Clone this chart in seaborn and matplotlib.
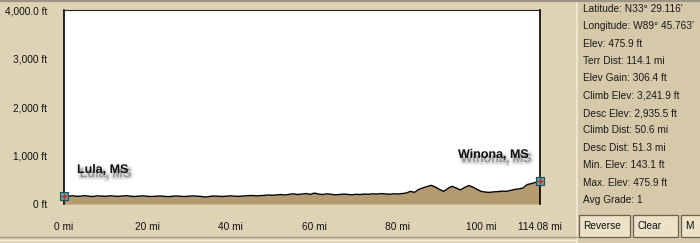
import numpy as np
import pandas as pd
import matplotlib
matplotlib.use("Agg")
import matplotlib.pyplot as plt
import matplotlib.patheffects as pe
from matplotlib.patches import Rectangle
from matplotlib.lines import Line2D
import seaborn as sns

# ---- data ----
distance_mi = list(range(0, 115)) + [114.08]
elevation_ft = [
    165, 160, 170, 158, 162, 172, 160, 155, 168, 163, 158,
    170, 162, 158, 165, 172, 160, 155, 163, 168, 158,
    155, 160, 165, 158, 152, 160, 166, 158, 155, 162,
    168, 160, 155, 143, 158, 165, 160, 155, 162, 168,
    160, 158, 165, 170, 175, 168, 172, 178, 185, 180,
    188, 195, 185, 200, 210, 195, 205, 215, 198, 225,
    205, 195, 210, 200, 190, 195, 205, 198, 190, 200,
    195, 205, 200, 210, 205, 215, 208, 200, 212, 205,
    215, 225, 260, 240, 300, 330, 360, 385, 350, 300,
    260, 320, 365, 330, 290, 340, 380, 350, 300, 260,
    245, 240, 250, 255, 265, 260, 280, 300, 310, 330,
    400, 420, 445, 470, 475.9,
]
x_ticks = [0, 20, 40, 60, 80, 100, 114.08]
x_tick_labels = ["0 mi", "20 mi", "40 mi", "60 mi", "80 mi", "100 mi", "114.08 mi"]
y_ticks = [0, 1000, 2000, 3000, 4000]
y_tick_labels = ["0 ft", "1,000 ft", "2,000 ft", "3,000 ft", "4,000.0 ft"]
start_label = "Lula, MS"
end_label = "Winona, MS"
stats = [
    "Latitude: N33\u00b0 29.116'",
    "Longitude: W89\u00b0 45.763'",
    "Elev: 475.9 ft",
    "Terr Dist: 114.1 mi",
    "Elev Gain: 306.4 ft",
    "Climb Elev: 3,241.9 ft",
    "Desc Elev: 2,935.5 ft",
    "Climb Dist: 50.6 mi",
    "Desc Dist: 51.3 mi",
    "Min. Elev: 143.1 ft",
    "Max. Elev: 475.9 ft",
    "Avg Grade: 1",
]
buttons = ["Reverse", "Clear", "M"]

df = pd.DataFrame({"dist": distance_mi, "elev": elevation_ft})

sns.set_theme(style="white")
plt.rcParams["font.family"] = ["Liberation Sans", "DejaVu Sans"]

W, H = 700, 243
fig = plt.figure(figsize=(7.0, 2.43), dpi=100)
bg = "#dfd3b6"
panel = "#d5c9aa"
fig.patch.set_facecolor(bg)

def fx(px):
    return px / W

def fy(py):
    return 1 - py / H

ax = fig.add_axes([fx(64), fy(204), fx(540) - fx(64), fy(10) - fy(204)])
ax.set_facecolor("white")

sns.lineplot(data=df, x="dist", y="elev", ax=ax, color="black", linewidth=1.0)
ax.fill_between(df["dist"], df["elev"], 0, color="#b39b6f", linewidth=0, zorder=1)

ax.set_xlim(0, 114.08)
ax.set_ylim(0, 4000)
ax.set_xticks(x_ticks)
ax.set_xticklabels(x_tick_labels)
ax.set_yticks(y_ticks)
ax.set_yticklabels(y_tick_labels)
ax.set_xlabel("")
ax.set_ylabel("")
ax.tick_params(axis="both", direction="out", length=6, width=1, color="black",
               labelsize=7.3, labelcolor="#111111", pad=6)
ax.tick_params(axis="x", pad=7)
for s in ["left", "right", "top"]:
    ax.spines[s].set_visible(True)
    ax.spines[s].set_color("black")
    ax.spines[s].set_linewidth(1.2)
ax.spines["bottom"].set_visible(False)
ax.spines["top"].set_color("#222222")
ax.spines["top"].set_linewidth(0.8)

# start / end markers
for i in [0, len(distance_mi) - 1]:
    ax.scatter([distance_mi[i]], [elevation_ft[i]], marker="s", s=30,
               facecolor="#5aa6ad", edgecolor="#1f4f55", linewidth=0.8,
               zorder=5, clip_on=False)
    ax.scatter([distance_mi[i]], [elevation_ft[i]], marker="+", s=14,
               color="#d02020", linewidth=1.0, zorder=6, clip_on=False)

shadow_fx = [
    pe.Stroke(offset=(2, -3), linewidth=4.5, foreground="#9a9a9a", alpha=0.12),
    pe.Stroke(offset=(2, -3), linewidth=2.5, foreground="#888888", alpha=0.2),
    pe.SimplePatchShadow(offset=(2, -3), shadow_rgbFace="#777777", alpha=0.3),
    pe.Normal(),
]
ax.annotate(start_label, xy=(distance_mi[0], elevation_ft[0]), xytext=(13, 26),
            textcoords="offset pixels", fontsize=9, fontweight="bold",
            color="#111111", ha="left", va="center", path_effects=shadow_fx)
ax.annotate(end_label, xy=(distance_mi[-1], elevation_ft[-1]), xytext=(-82, 26),
            textcoords="offset pixels", fontsize=9, fontweight="bold",
            color="#111111", ha="left", va="center", path_effects=shadow_fx)

# right-hand info panel
fig.add_artist(Rectangle((fx(577), 0), 1 - fx(577), 1, transform=fig.transFigure,
                         facecolor=panel, edgecolor="none", zorder=0))
fig.add_artist(Line2D([fx(577), fx(577)], [0, 1], transform=fig.transFigure,
                      color="#f2ead6", linewidth=1.2))
for k, s in enumerate(stats):
    fig.text(fx(583), fy(9 + 17.35 * k), s, fontsize=7.3, color="#1a1a1a",
             ha="left", va="center")

# buttons
btn_x = [579, 633, 681]
btn_w = [51, 45, 40]
for label, bx, bw in zip(buttons, btn_x, btn_w):
    fig.add_artist(Rectangle((fx(bx), fy(237)), bw / W, 22 / H, transform=fig.transFigure,
                             facecolor="#ece2c8", edgecolor="#6b6250", linewidth=0.9))
    fig.text(fx(bx + 4), fy(226), label, fontsize=7.3, color="#111111",
             ha="left", va="center")

# window frame lines
fig.add_artist(Line2D([0, 1], [fy(0.8), fy(0.8)], transform=fig.transFigure,
                      color="#9b9585", linewidth=1.6))
fig.add_artist(Line2D([0, fx(577)], [fy(237), fy(237)], transform=fig.transFigure,
                      color="#a69e8a", linewidth=1.0))
fig.add_artist(Line2D([0, fx(577)], [fy(240), fy(240)], transform=fig.transFigure,
                      color="#f4ecd8", linewidth=1.0))

fig.savefig("out.png", dpi=100, facecolor=fig.get_facecolor())
